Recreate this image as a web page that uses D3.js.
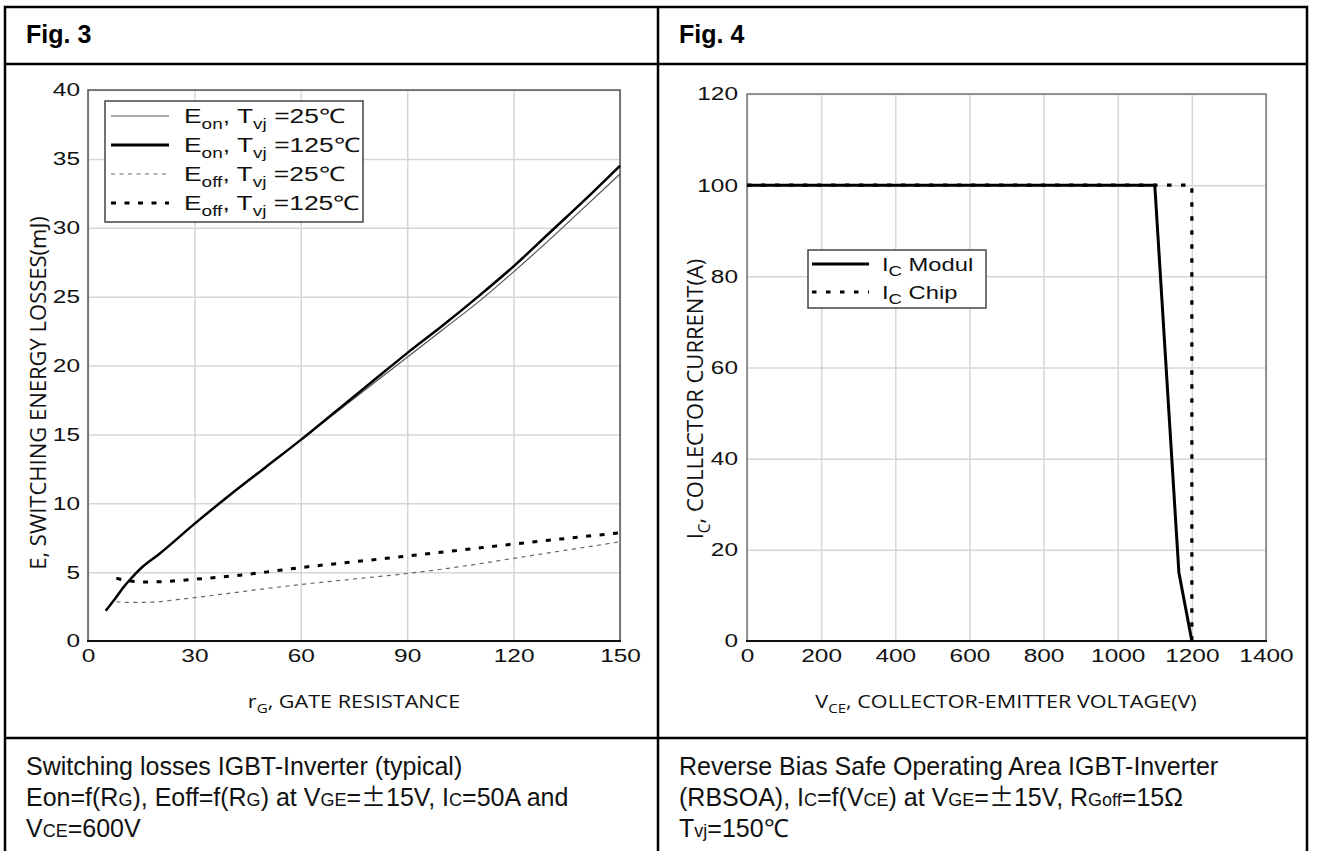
<!DOCTYPE html>
<html>
<head>
<meta charset="utf-8">
<script src="https://cdn.jsdelivr.net/npm/d3@7"></script>
<style>
  html, body { margin: 0; padding: 0; background: #fff; }
  svg { display: block; }
</style>
</head>
<body>
<svg id="chart" width="1317" height="851"></svg>
<script>
// ---------------- DATA ----------------
// Fig. 3 : switching energy vs gate resistance
const rGOn   = [5, 8, 10, 12, 15, 20, 30, 40, 50, 60, 70, 80, 90, 100, 110, 120, 130, 140, 150];
const eOn125 = [2.2, 3.2, 3.9, 4.5, 5.3, 6.3, 8.5, 10.6, 12.6, 14.6, 16.7, 18.8, 20.9, 22.9, 25.0, 27.2, 29.6, 32.0, 34.5];
const eOn25  = [2.2, 3.2, 3.9, 4.5, 5.3, 6.3, 8.5, 10.6, 12.6, 14.6, 16.6, 18.6, 20.6, 22.6, 24.6, 26.8, 29.1, 31.5, 33.9];
const rGOff125 = [8, 12, 16, 20, 25, 30, 40, 50, 60, 75, 90, 105, 120, 135, 150];
const eOff125  = [4.55, 4.35, 4.28, 4.3, 4.38, 4.48, 4.7, 5.0, 5.33, 5.75, 6.17, 6.6, 7.04, 7.45, 7.85];
const rGOff25  = [8, 12, 18, 25, 30, 40, 50, 60, 75, 90, 105, 120, 135, 150];
const eOff25   = [2.85, 2.8, 2.82, 3.0, 3.15, 3.47, 3.8, 4.1, 4.5, 4.9, 5.4, 6.0, 6.6, 7.2];
const fig3XTicks = [0, 30, 60, 90, 120, 150];
const fig3YTicks = [0, 5, 10, 15, 20, 25, 30, 35, 40];

// Fig. 4 : RBSOA
const vModul = [0, 1100, 1165, 1200];
const iModul = [100, 100, 15, 0];
const vChip  = [0, 1200, 1200];
const iChip  = [100, 100, 0];
const fig4XTicks = [0, 200, 400, 600, 800, 1000, 1200, 1400];
const fig4YTicks = [0, 20, 40, 60, 80, 100, 120];

// ---------------- DRAW ----------------
const svg = d3.select("#chart");
svg.append("rect").attr("width", 1317).attr("height", 851).attr("fill", "#fff");

const ARIAL = "'Liberation Sans', Arial, sans-serif";
const CAL = "'Open Sans', 'Liberation Sans', sans-serif";
const SX = 1.32;   // horizontal stretch of the chart images

// table
const tbl = svg.append("g").attr("stroke", "#000").attr("stroke-width", 2.5).attr("fill", "none");
tbl.append("rect").attr("x", 5).attr("y", 7).attr("width", 1302).attr("height", 870);
tbl.append("line").attr("x1", 5).attr("x2", 1307).attr("y1", 64).attr("y2", 64);
tbl.append("line").attr("x1", 5).attr("x2", 1307).attr("y1", 738).attr("y2", 738);
tbl.append("line").attr("x1", 658).attr("x2", 658).attr("y1", 7).attr("y2", 860);

svg.append("text").attr("x", 26).attr("y", 43).attr("font-family", ARIAL).attr("font-weight", "bold")
  .attr("font-size", 25).text("Fig. 3");
svg.append("text").attr("x", 679).attr("y", 43).attr("font-family", ARIAL).attr("font-weight", "bold")
  .attr("font-size", 25).text("Fig. 4");

// rich text: kinds n normal, s subscript (lowered), m small on baseline, c CJK glyph
function rich(sel, parts, size, subScale) {
  subScale = subScale || 0.72;
  let lowered = false;
  parts.forEach(([t, k]) => {
    const ts = sel.append("tspan").text(t);
    if (k === "s") {
      ts.attr("font-size", size * subScale).attr("dy", size * 0.3);
      lowered = true;
    } else {
      if (lowered) { ts.attr("dy", -size * 0.3); lowered = false; }
      if (k === "m") ts.attr("font-size", size * 0.72);
      if (k === "c") ts.attr("font-family", "'Noto Sans CJK SC', sans-serif");
    }
  });
  return sel;
}

function styleTicks(a, anchorEnd, pad) {
  a.select(".domain").remove();
  a.selectAll("text")
    .attr("font-family", ARIAL).attr("font-size", 18.5).attr("fill", "#111")
    .attr("transform", `scale(${SX},1)`);
  if (anchorEnd) a.selectAll("text").attr("x", -pad / SX);
  else a.selectAll("text").attr("y", 21).attr("dy", null);
}

// ---------- Fig. 3 ----------
{
  const x = d3.scaleLinear().domain([0, 150]).range([88, 620]);
  const y = d3.scaleLinear().domain([0, 40]).range([641, 90]);
  const g = svg.append("g");

  g.append("g").attr("transform", `translate(0,641)`)
    .call(d3.axisBottom(x).tickValues(fig3XTicks).tickSize(-(641 - 90)).tickFormat(""))
    .call(a => { a.select(".domain").remove(); a.selectAll("line").attr("stroke", "#d6d6d6").attr("stroke-width", 1.5); });
  g.append("g").attr("transform", `translate(88,0)`)
    .call(d3.axisLeft(y).tickValues(fig3YTicks).tickSize(-(620 - 88)).tickFormat(""))
    .call(a => { a.select(".domain").remove(); a.selectAll("line").attr("stroke", "#d6d6d6").attr("stroke-width", 1.5); });

  g.append("rect").attr("x", 88).attr("y", 90).attr("width", 532).attr("height", 551)
    .attr("fill", "none").attr("stroke", "#555").attr("stroke-width", 1.5);
  g.append("line").attr("x1", 87).attr("x2", 621).attr("y1", 641).attr("y2", 641).attr("stroke", "#111").attr("stroke-width", 2);

  g.append("g").attr("transform", `translate(0,641)`)
    .call(d3.axisBottom(x).tickValues(fig3XTicks).tickSize(0).tickFormat(d3.format("d")))
    .call(a => styleTicks(a, false));
  g.append("g").attr("transform", `translate(88,0)`)
    .call(d3.axisLeft(y).tickValues(fig3YTicks).tickSize(0).tickFormat(d3.format("d")))
    .call(a => styleTicks(a, true, 8));

  const line = d3.line().x(d => x(d[0])).y(d => y(d[1])).curve(d3.curveMonotoneX);
  const zip = (a, b) => a.map((v, i) => [v, b[i]]);

  g.append("path").attr("d", line(zip(rGOff25, eOff25))).attr("fill", "none").attr("stroke", "#666").attr("stroke-width", 1.2).attr("stroke-dasharray", "4,4.5");
  g.append("path").attr("d", line(zip(rGOff125, eOff125))).attr("fill", "none").attr("stroke", "#000").attr("stroke-width", 3).attr("stroke-dasharray", "5,8.5");
  g.append("path").attr("d", line(zip(rGOn, eOn25))).attr("fill", "none").attr("stroke", "#555").attr("stroke-width", 1.2);
  g.append("path").attr("d", line(zip(rGOn, eOn125))).attr("fill", "none").attr("stroke", "#000").attr("stroke-width", 2.5);

  // legend
  const lg = g.append("g");
  lg.append("rect").attr("x", 105).attr("y", 101).attr("width", 258).attr("height", 121)
    .attr("fill", "#fff").attr("stroke", "#444").attr("stroke-width", 1.5);
  const items = [
    {ys: 116, stroke: "#555", w: 1.2, dash: null, parts: [["E","n"],["on","s"],[", T","n"],["vj","s"],[" =25℃","n"]]},
    {ys: 145, stroke: "#000", w: 2.8, dash: null, parts: [["E","n"],["on","s"],[", T","n"],["vj","s"],[" =125℃","n"]]},
    {ys: 174, stroke: "#666", w: 1.2, dash: "4,4.5", parts: [["E","n"],["off","s"],[", T","n"],["vj","s"],[" =25℃","n"]]},
    {ys: 203, stroke: "#000", w: 3, dash: "5,8.5", parts: [["E","n"],["off","s"],[", T","n"],["vj","s"],[" =125℃","n"]]}
  ];
  items.forEach(it => {
    lg.append("line").attr("x1", 111).attr("x2", 169).attr("y1", it.ys).attr("y2", it.ys)
      .attr("stroke", it.stroke).attr("stroke-width", it.w).attr("stroke-dasharray", it.dash);
    const t = lg.append("text").attr("transform", `translate(184,${it.ys + 7}) scale(${SX},1)`)
      .attr("font-family", ARIAL).attr("font-size", 20).attr("fill", "#111");
    rich(t, it.parts, 20, 0.72);
  });

  // axis titles
  const xt = svg.append("text").attr("transform", `translate(354,708) scale(1.2,1)`).attr("text-anchor", "middle")
    .attr("font-family", CAL).attr("font-size", 18).attr("fill", "#111");
  rich(xt, [["r","n"],["G","s"],[", GATE RESISTANCE","n"]], 18, 0.7);
  svg.append("text").attr("transform", "translate(46,393) rotate(-90)").attr("text-anchor", "middle")
    .attr("font-family", CAL).attr("font-size", 22).attr("fill", "#111").text("E, SWITCHING ENERGY LOSSES(mJ)");
}

// ---------- Fig. 4 ----------
{
  const x = d3.scaleLinear().domain([0, 1400]).range([747, 1266]);
  const y = d3.scaleLinear().domain([0, 120]).range([641, 94]);
  const g = svg.append("g");

  g.append("g").attr("transform", `translate(0,641)`)
    .call(d3.axisBottom(x).tickValues(fig4XTicks).tickSize(-(641 - 94)).tickFormat(""))
    .call(a => { a.select(".domain").remove(); a.selectAll("line").attr("stroke", "#d6d6d6").attr("stroke-width", 1.5); });
  g.append("g").attr("transform", `translate(747,0)`)
    .call(d3.axisLeft(y).tickValues(fig4YTicks).tickSize(-(1266 - 747)).tickFormat(""))
    .call(a => { a.select(".domain").remove(); a.selectAll("line").attr("stroke", "#d6d6d6").attr("stroke-width", 1.5); });

  g.append("rect").attr("x", 747).attr("y", 94).attr("width", 519).attr("height", 547)
    .attr("fill", "none").attr("stroke", "#777").attr("stroke-width", 1.5);
  g.append("line").attr("x1", 746).attr("x2", 1267).attr("y1", 641).attr("y2", 641).attr("stroke", "#111").attr("stroke-width", 2);

  g.append("g").attr("transform", `translate(0,641)`)
    .call(d3.axisBottom(x).tickValues(fig4XTicks).tickSize(0).tickFormat(d3.format("d")))
    .call(a => styleTicks(a, false));
  g.append("g").attr("transform", `translate(747,0)`)
    .call(d3.axisLeft(y).tickValues(fig4YTicks).tickSize(0).tickFormat(d3.format("d")))
    .call(a => styleTicks(a, true, 9));

  const line = d3.line().x(d => x(d[0])).y(d => y(d[1]));
  const zip = (a, b) => a.map((v, i) => [v, b[i]]);
  g.append("path").attr("d", line(zip(vChip, iChip))).attr("fill", "none").attr("stroke", "#000").attr("stroke-width", 3.2).attr("stroke-dasharray", "4.5,9.5");
  g.append("path").attr("d", line(zip(vModul, iModul))).attr("fill", "none").attr("stroke", "#000").attr("stroke-width", 3);

  const lg = g.append("g");
  lg.append("rect").attr("x", 808).attr("y", 250).attr("width", 178).attr("height", 58)
    .attr("fill", "#fff").attr("stroke", "#444").attr("stroke-width", 1.5);
  const items = [
    {ys: 264, dash: null, name: " Modul"},
    {ys: 292, dash: "4.5,9.5", name: " Chip"}
  ];
  items.forEach(it => {
    lg.append("line").attr("x1", 812).attr("x2", 869).attr("y1", it.ys).attr("y2", it.ys)
      .attr("stroke", "#000").attr("stroke-width", 3).attr("stroke-dasharray", it.dash);
    const t = lg.append("text").attr("transform", `translate(882,${it.ys + 7}) scale(${SX},1)`)
      .attr("font-family", ARIAL).attr("font-size", 18).attr("fill", "#111");
    rich(t, [["I","n"],["C","s"],[it.name,"n"]], 18, 0.78);
  });

  const xt = svg.append("text").attr("transform", `translate(1006,708) scale(1.2,1)`).attr("text-anchor", "middle")
    .attr("font-family", CAL).attr("font-size", 18).attr("fill", "#111");
  rich(xt, [["V","n"],["CE","s"],[", COLLECTOR-EMITTER VOLTAGE(V)","n"]], 18, 0.7);
  const yt = svg.append("text").attr("transform", "translate(703,399) rotate(-90)").attr("text-anchor", "middle")
    .attr("font-family", CAL).attr("font-size", 22).attr("fill", "#111");
  rich(yt, [["I","n"],["C","s"],[", COLLECTOR CURRENT(A)","n"]], 22, 0.7);
}

// ---------- captions ----------
function caption(x, y0, lines) {
  lines.forEach((parts, i) => {
    const t = svg.append("text").attr("x", x).attr("y", y0 + i * 31).attr("font-family", ARIAL).attr("font-size", 25).attr("fill", "#111");
    rich(t, parts, 25);
  });
}
caption(26, 775, [
  [["Switching losses IGBT-Inverter (typical)","n"]],
  [["Eon=f(R","n"],["G","m"],["), Eoff=f(R","n"],["G","m"],[") at V","n"],["GE","m"],["=","n"],["±","c"],["15V, I","n"],["C","m"],["=50A and","n"]],
  [["V","n"],["CE","m"],["=600V","n"]]
]);
caption(679, 775, [
  [["Reverse Bias Safe Operating Area IGBT-Inverter","n"]],
  [["(RBSOA), I","n"],["C","m"],["=f(V","n"],["CE","m"],[") at V","n"],["GE","m"],["=","n"],["±","c"],["15V, R","n"],["Goff","m"],["=15Ω","n"]],
  [["T","n"],["vj","m"],["=150℃","n"]]
]);
</script>
</body>
</html>
